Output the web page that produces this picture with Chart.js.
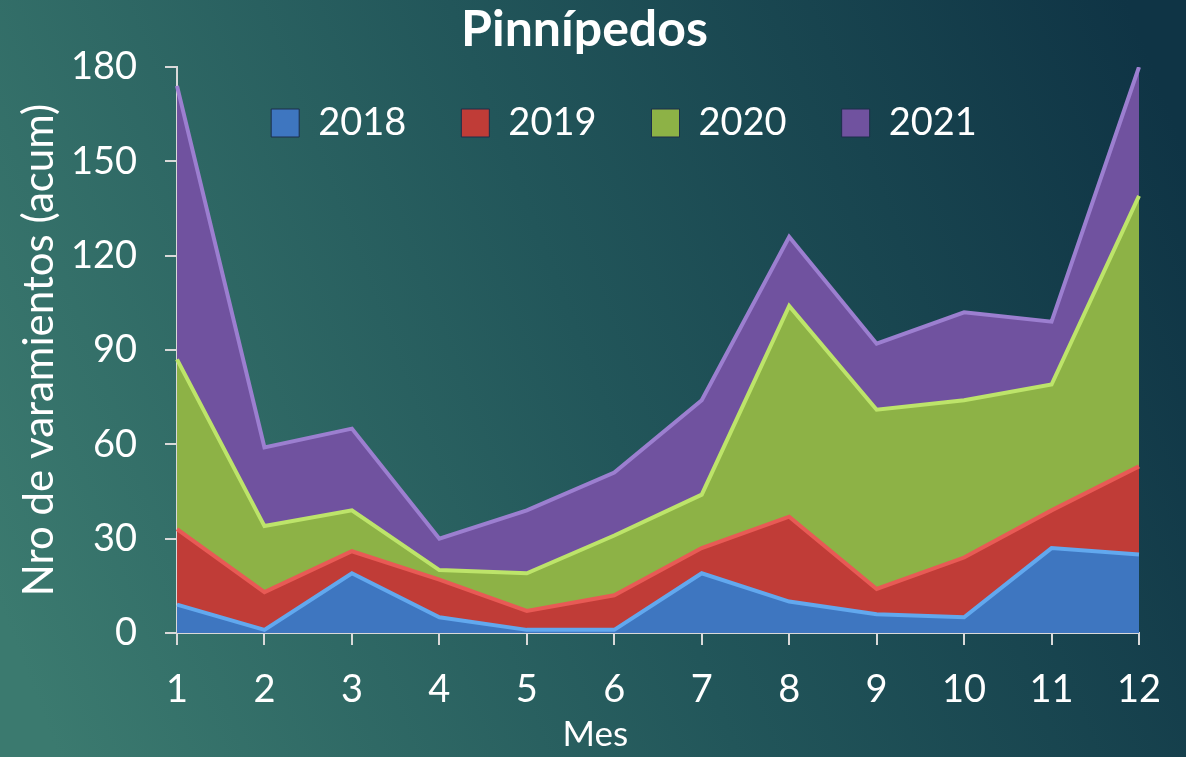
<!DOCTYPE html>
<html lang="es">
<head>
<meta charset="UTF-8">
<title>Pinnípedos</title>
<script src="https://cdn.jsdelivr.net/npm/chart.js@4.4.1/dist/chart.umd.min.js"></script>
<style>
  html, body { margin: 0; padding: 0; background: #245a5a; }
  canvas { display: block; }
</style>
</head>
<body>
<canvas id="chart" width="1186" height="757"></canvas>
<script>
// monthly strandings per year (stacked in the chart)
const meses = ['1', '2', '3', '4', '5', '6', '7', '8', '9', '10', '11', '12'];
const v2018 = [9, 1, 19, 5, 1, 1, 19, 10, 6, 5, 27, 25];
const v2019 = [24, 12, 7, 12, 6, 11, 8, 27, 8, 19, 12, 28];
const v2020 = [54, 21, 13, 3, 12, 19, 17, 67, 57, 50, 40, 86];
const v2021 = [87, 25, 26, 10, 20, 20, 30, 22, 21, 28, 20, 41];
const yMax = 180;
const yStep = 30;

const FONT = 'Lato, "Open Sans", sans-serif';
const AXIS = '#d9d9d9';

// slide background, teal to dark blue
const bgPlugin = {
    id: 'bg',
    beforeDraw(chart) {
        const { ctx, width, height } = chart;
        const g = ctx.createLinearGradient(0, height * 0.8, width, height * 0.2);
        g.addColorStop(0, '#3b7a6f');
        g.addColorStop(0.5, '#22565a');
        g.addColorStop(1, '#0f3445');
        ctx.save();
        ctx.fillStyle = g;
        ctx.fillRect(0, 0, width, height);
        ctx.restore();
    }
};

// legend sits inside the plot as one row
const legendShift = {
    id: 'legendShift',
    beforeLayout(chart) {
        if (chart.legend) chart.legend.isHorizontal = () => true;
    },
    afterLayout(chart) {
        const lg = chart.legend;
        if (!lg) return;
        const dx = 143, dy = -18;
        lg.left += dx; lg.right += dx;
        lg.top += dy; lg.bottom += dy;
    }
};

function serie(label, data, fill, edge, fillTo) {
    return {
        label: label,
        data: data,
        backgroundColor: fill,
        borderColor: edge,
        borderWidth: 4,
        fill: fillTo,
        pointRadius: 0,
        pointHoverRadius: 0,
        tension: 0
    };
}

new Chart(document.getElementById('chart'), {
    type: 'line',
    data: {
        labels: meses,
        datasets: [
            serie('2018', v2018, '#3e76c0', '#62a8ee', 'origin'),
            serie('2019', v2019, '#c03c37', '#e85a55', '-1'),
            serie('2020', v2020, '#8db246', '#bde46a', '-1'),
            serie('2021', v2021, '#70529f', '#9c7fd0', '-1')
        ]
    },
    options: {
        responsive: false,
        animation: false,
        events: [],
        layout: { padding: { left: 0, right: 17, top: 0, bottom: 0 } },
        scales: {
            x: {
                offset: false,
                grid: { drawOnChartArea: false, color: AXIS, lineWidth: 2, tickLength: 12 },
                border: { color: AXIS, width: 2 },
                ticks: { color: '#ffffff', font: { family: FONT, size: 38 }, padding: 22, maxRotation: 0 },
                title: {
                    display: true,
                    // trailing spaces pull the label back to the page centre
                    text: 'Mes' + '\u00a0'.repeat(14),
                    color: '#ffffff',
                    font: { family: FONT, size: 35 },
                    padding: { top: 0, bottom: 1 }
                },
                afterFit(s) { s.height = 124; }
            },
            y: {
                stacked: true,
                min: 0,
                max: yMax,
                grid: { drawOnChartArea: false, color: AXIS, lineWidth: 2, tickLength: 12 },
                border: { color: AXIS, width: 2 },
                ticks: { stepSize: yStep, color: '#ffffff', font: { family: FONT, size: 38 }, padding: 28 },
                title: { display: true, text: 'Nro de varamientos (acum)', color: '#ffffff', font: { family: FONT, size: 42 }, padding: { top: 14, bottom: 0 } },
                afterFit(s) { s.width = 177; }
            },
            // empty right-hand margin so the plot ends where the reference does
            margen: {
                position: 'right',
                grid: { display: false },
                border: { display: false },
                ticks: { display: false },
                afterFit(s) { s.width = 30; }
            }
        },
        plugins: {
            title: {
                display: true,
                text: 'Pinnípedos',
                color: '#ffffff',
                font: { family: FONT, size: 50, weight: 'bold' },
                padding: { top: 0, bottom: 7 }
            },
            legend: {
                position: 'chartArea',
                align: 'center',
                labels: {
                    color: '#ffffff',
                    font: { family: FONT, size: 38 },
                    boxWidth: 28,
                    boxHeight: 28,
                    padding: 55,
                    generateLabels(chart) {
                        return chart.data.datasets.map((ds, i) => ({
                            text: ds.label,
                            fillStyle: ds.backgroundColor,
                            strokeStyle: '#1c2f4a',
                            lineWidth: 1,
                            fontColor: '#ffffff',
                            hidden: false,
                            datasetIndex: i
                        }));
                    }
                }
            },
            tooltip: { enabled: false }
        }
    },
    plugins: [bgPlugin, legendShift]
});
</script>
</body>
</html>
